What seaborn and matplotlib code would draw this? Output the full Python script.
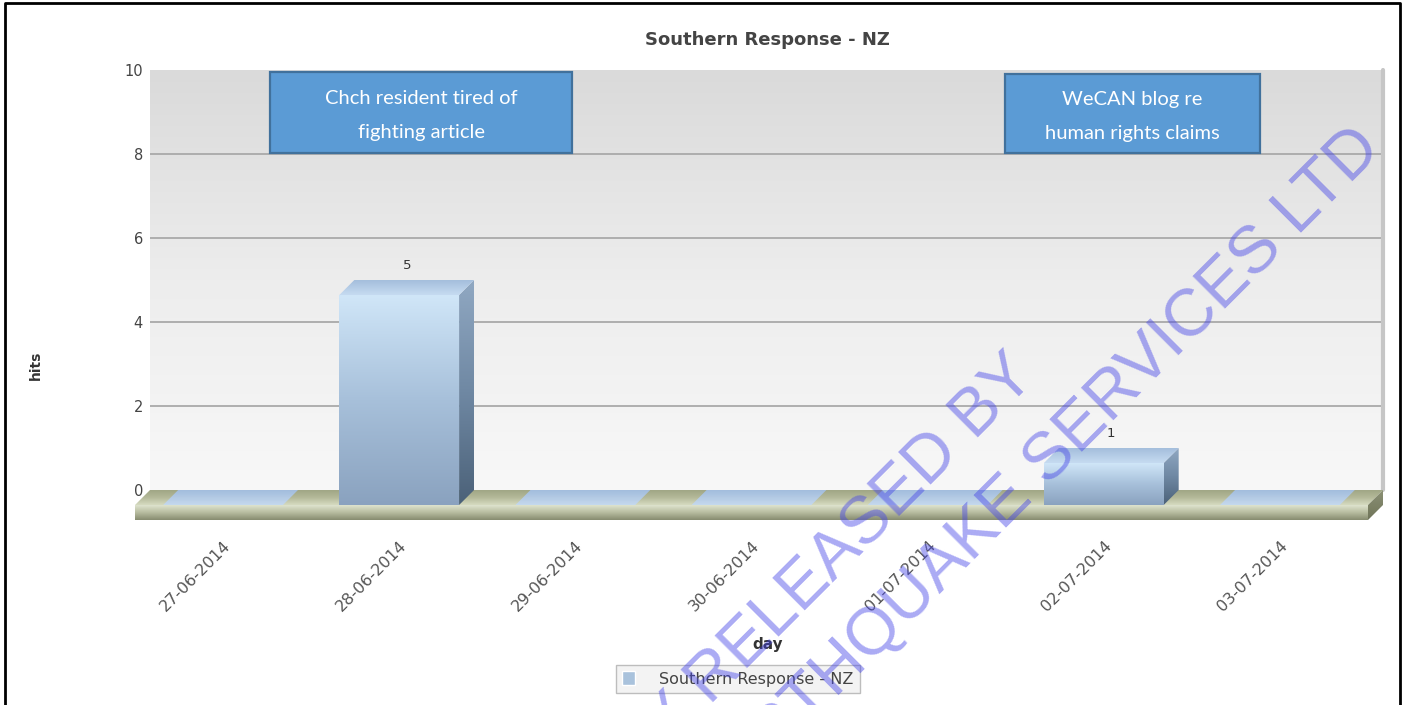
import matplotlib

matplotlib.use("Agg")

import matplotlib.pyplot as plt
import numpy as np
import pandas as pd
import seaborn as sns
from matplotlib.colors import LinearSegmentedColormap
from matplotlib.lines import Line2D
from matplotlib.patches import Polygon, Rectangle
from matplotlib.transforms import Bbox, TransformedBbox


DAYS = ["27-06-2014", "28-06-2014", "29-06-2014", "30-06-2014",
        "01-07-2014", "02-07-2014", "03-07-2014"]
HITS = [0, 5, 0, 0, 0, 1, 0]
SERIES = "Southern Response - NZ"
Y_TICKS = [0, 2, 4, 6, 8, 10]
NOTES = ["Chch resident tired of\nfighting article", "WeCAN blog re\nhuman rights claims"]
WATERMARK = ["PROACTIVELY RELEASED BY", "EARTHQUAKE SERVICES LTD"]

W, H = 1407, 705
PX_PER_CAT = 1233 / 7
PX_PER_HIT = 42
DX = 15 / PX_PER_CAT
DY = 15 / PX_PER_HIT
SLAB = 15 / PX_PER_HIT

GRAD = np.linspace(0, 1, 256).reshape(-1, 1)


def fx(px):
    return px / W


def fy(py):
    return 1 - py / H


def px_rect(left, top, right, bottom):
    return [fx(left), fy(bottom), (right - left) / W, (bottom - top) / H]


def shade(ax, clip, extent, colors, zorder=2, alpha=1.0):
    # vertical gradient clipped to a patch; colors go bottom -> top
    cmap = LinearSegmentedColormap.from_list("shade", colors)
    img = ax.imshow(GRAD, cmap=cmap, origin="lower", aspect="auto", extent=extent,
                    interpolation="bicubic", zorder=zorder, alpha=alpha)
    img.set_clip_path(clip)


def add_poly(ax, pts, zorder=2):
    poly = Polygon(pts, closed=True, facecolor="none", edgecolor="none", zorder=zorder)
    ax.add_patch(poly)
    return poly


sns.set_theme(style="white")
plt.rcParams["font.family"] = ["DejaVu Sans"]

fig = plt.figure(figsize=(W / 100, H / 100), dpi=100)
fig.patch.set_facecolor("white")

# back wall with grid and y axis
ax_wall = fig.add_axes(px_rect(150, 70, 1383, 490))
shade(ax_wall, ax_wall.patch, (-0.5, 6.5, 0, 10), ["#f8f8f8", "#ededed", "#dadada"], zorder=0)
for v in Y_TICKS[1:-1]:
    ax_wall.axhline(v, color="#a9a9a9", lw=1.3, zorder=1)
ax_wall.axvline(6.5, color="#c6c6c6", lw=3, clip_on=False, zorder=1)
ax_wall.set_xlim(-0.5, 6.5)
ax_wall.set_ylim(0, 10)
ax_wall.set_xticks([])
ax_wall.set_yticks(Y_TICKS)
ax_wall.tick_params(axis="y", length=0, pad=5, labelsize=10.5, labelcolor="#444444")
for s in ax_wall.spines.values():
    s.set_visible(False)
ax_wall.set_ylabel("hits", fontsize=10, fontweight="bold", color="#333333")
ax_wall.yaxis.set_label_coords((43 - 150) / 1233, (490 - 365) / 420)

# front plane: floor slab and bars
ax = fig.add_axes(px_rect(135, 85, 1383, 520))
ax.patch.set_alpha(0)
df = pd.DataFrame({"day": DAYS, "hits": HITS})
sns.barplot(data=df, x="day", y="hits", order=DAYS, color="#a9c2dc", width=0.68,
            saturation=1, ax=ax, zorder=3)
bars = list(ax.patches)
ax.legend(handles=[bars[1]], labels=[SERIES], loc="center",
          bbox_to_anchor=(fx(738), fy(679)), bbox_transform=fig.transFigure,
          frameon=True, fancybox=False, edgecolor="#bdbdbd", facecolor="#f3f3f3",
          framealpha=1, fontsize=11.5, labelcolor="#444444", handlelength=0.8,
          handleheight=1.0, borderpad=0.4, handletextpad=1.5, borderaxespad=0)

left, right = -0.5, len(DAYS) - 0.5
floor = add_poly(ax, [(left, 0), (right, 0), (right + DX, DY), (left + DX, DY)], zorder=1)
shade(ax, floor, (left, right + DX, 0, DY), ["#d6dbc1", "#b4b999", "#a0a685"], zorder=1)
front = add_poly(ax, [(left, -SLAB), (right, -SLAB), (right, 0), (left, 0)], zorder=1)
shade(ax, front, (left, right, -SLAB, 0), ["#868b6f", "#b7bc9f", "#dfe4cf"], zorder=1)
end = add_poly(ax, [(right, -SLAB), (right + DX, -SLAB + DY), (right + DX, DY), (right, 0)], zorder=1)
shade(ax, end, (right, right + DX, -SLAB, DY), ["#6f7459", "#8c9175"], zorder=1)

for bar in bars:
    x0, w, h = bar.get_x(), bar.get_width(), bar.get_height()
    x1 = x0 + w
    bar.set_facecolor("none")
    bar.set_edgecolor("none")
    top = add_poly(ax, [(x0, h), (x1, h), (x1 + DX, h + DY), (x0 + DX, h + DY)], zorder=3)
    if h == 0:
        shade(ax, top, (x0, x1 + DX, 0, DY), ["#c4d9f3", "#a3c0e8"], zorder=2, alpha=0.9)
        continue
    shade(ax, bar, (x0, x1, 0, h), ["#8aa2bf", "#a7c0da", "#d0e6f8"], zorder=3)
    side = add_poly(ax, [(x1, 0), (x1 + DX, DY), (x1 + DX, h + DY), (x1, h)], zorder=3)
    shade(ax, side, (x1, x1 + DX, 0, h + DY), ["#4b6178", "#6f88a3", "#90a8c2"], zorder=3)
    shade(ax, top, (x0, x1 + DX, h, h + DY), ["#c6dbf1", "#a4bedc"], zorder=3)
    ax.annotate(f"{h:g}", xy=(x0 + w / 2 + DX / 2, h + DY), xytext=(0, 6),
                textcoords="offset points", ha="center", va="bottom",
                fontsize=9.5, color="#333333", zorder=4)

ax.set_xlim(left, right + DX)
ax.set_ylim(-SLAB, 10)
ax.set_yticks([])
ax.set_ylabel("")
ax.set_xticks(range(len(DAYS)))
ax.set_xticklabels(DAYS, rotation=45, ha="right", rotation_mode="anchor",
                   fontsize=11.5, color="#555555")
ax.tick_params(axis="x", length=0, pad=13)
for s in ax.spines.values():
    s.set_visible(False)
ax.set_xlabel("day", fontsize=11, fontweight="bold", color="#333333")
ax.xaxis.set_label_coords((768 - 135) / 1248, (520 - 637) / 435)

fig.text(fx(767), fy(40), SERIES, ha="center", va="center", fontsize=13,
         fontweight="bold", color="#444444")

# annotation boxes
for (l, t, r, b), note in zip([(270, 72, 572, 153), (1005, 74, 1260, 153)], NOTES):
    fig.add_artist(Rectangle((fx(l), fy(b)), (r - l) / W, (b - t) / H,
                             transform=fig.transFigure, facecolor="#5b9bd5",
                             edgecolor="#41719c", lw=1.6, zorder=5))
    txt = fig.text(fx((l + r) / 2), fy((t + b) / 2 + 3), note, ha="center", va="center",
                   fontsize=14.5, family=["Lato", "DejaVu Sans"], color="white",
                   linespacing=2.15, zorder=6)
    txt.set_clip_box(TransformedBbox(Bbox([[fx(l), fy(b - 11)], [fx(r), fy(t)]]),
                                     fig.transFigure))
    txt.set_clip_on(True)

# outer frame
fig.add_artist(Line2D([fx(5), fx(5), fx(1400), fx(1400)], [0, fy(3), fy(3), 0],
                      transform=fig.transFigure, color="black", lw=2, zorder=8))

# watermark
for (px, py), line in zip([(1038, 378), (1383, 150)], WATERMARK):
    fig.text(fx(px), fy(py), line, rotation=45, rotation_mode="anchor", ha="right",
             va="baseline", fontsize=48, family=["Liberation Sans", "DejaVu Sans"],
             color="#4444e8", alpha=0.45, zorder=10)

fig.savefig("out.png", dpi=100, facecolor="white")
